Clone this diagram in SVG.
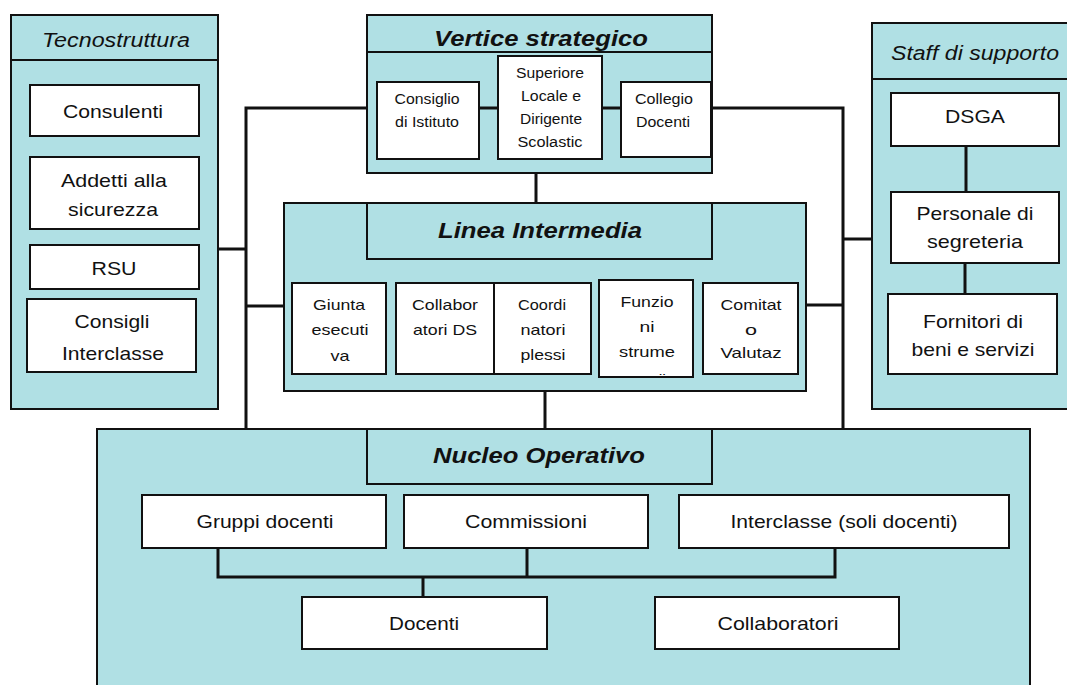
<svg xmlns="http://www.w3.org/2000/svg" width="1067" height="685" viewBox="0 0 1067 685">
<style>
.panel{fill:#B0E0E4;stroke:#111;stroke-width:2}
.box{fill:#fff;stroke:#111;stroke-width:2}
.conn{fill:none;stroke:#111;stroke-width:3}
text{font-family:"Liberation Sans",Arial,sans-serif;fill:#111;text-anchor:middle}
.t{font-size:19px}
.s{font-size:14px}
.m{font-size:15px}
.h{font-size:22px;font-weight:bold;font-style:italic}
.hi{font-size:20px;font-style:italic}
</style>
<defs>
<clipPath id="clipFunz"><rect x="600" y="281" width="92" height="94"/></clipPath>
</defs>
<rect x="0" y="0" width="1067" height="685" fill="#fff"/>

<g id="tecnostruttura">
<rect class="panel" x="11" y="15" width="207" height="394"/>
<line x1="11" y1="60" x2="218" y2="60" stroke="#111" stroke-width="2"/>
<text class="hi" x="116" y="47" textLength="148" lengthAdjust="spacingAndGlyphs">Tecnostruttura</text>
</g>
<g id="consulenti">
<rect class="box" x="30" y="85" width="169" height="51"/>
<text class="t" x="113" y="118" textLength="100" lengthAdjust="spacingAndGlyphs">Consulenti</text>
</g>
<g id="addetti">
<rect class="box" x="30" y="157" width="169" height="72"/>
<text class="t" x="114" y="187" textLength="106" lengthAdjust="spacingAndGlyphs">Addetti alla</text>
<text class="t" x="113" y="216" textLength="90" lengthAdjust="spacingAndGlyphs">sicurezza</text>
</g>
<g id="rsu">
<rect class="box" x="30" y="245" width="169" height="44"/>
<text class="t" x="114" y="275" textLength="45" lengthAdjust="spacingAndGlyphs">RSU</text>
</g>
<g id="consigli-interclasse">
<rect class="box" x="27" y="299" width="169" height="73"/>
<text class="t" x="112" y="328" textLength="75" lengthAdjust="spacingAndGlyphs">Consigli</text>
<text class="t" x="113" y="360" textLength="102" lengthAdjust="spacingAndGlyphs">Interclasse</text>
</g>

<g id="vertice-strategico">
<rect class="panel" x="367" y="15" width="345" height="158"/>
<line x1="367" y1="52" x2="712" y2="52" stroke="#111" stroke-width="2"/>
<text class="h" x="541" y="46" textLength="214" lengthAdjust="spacingAndGlyphs">Vertice strategico</text>
</g>
<g id="consiglio-istituto">
<rect class="box" x="377" y="82" width="102" height="77"/>
<text class="s" x="427" y="104" textLength="65" lengthAdjust="spacingAndGlyphs">Consiglio</text>
<text class="s" x="427" y="127" textLength="64" lengthAdjust="spacingAndGlyphs">di Istituto</text>
</g>
<g id="superiore">
<rect class="box" x="498" y="56" width="104" height="103"/>
<text class="s" x="550" y="78" textLength="68" lengthAdjust="spacingAndGlyphs">Superiore</text>
<text class="s" x="551" y="101" textLength="60" lengthAdjust="spacingAndGlyphs">Locale e</text>
<text class="s" x="551" y="124" textLength="62" lengthAdjust="spacingAndGlyphs">Dirigente</text>
<text class="s" x="550" y="147" textLength="65" lengthAdjust="spacingAndGlyphs">Scolastic</text>
</g>
<g id="collegio-docenti">
<rect class="box" x="621" y="82" width="90" height="75"/>
<text class="s" x="664" y="104" textLength="58" lengthAdjust="spacingAndGlyphs">Collegio</text>
<text class="s" x="663" y="127" textLength="54" lengthAdjust="spacingAndGlyphs">Docenti</text>
</g>

<g id="staff-supporto">
<rect class="panel" x="872" y="23" width="210" height="386"/>
<line x1="872" y1="79" x2="1082" y2="79" stroke="#111" stroke-width="2"/>
<text class="hi" x="975" y="60" textLength="168" lengthAdjust="spacingAndGlyphs">Staff di supporto</text>
</g>
<g id="dsga">
<rect class="box" x="891" y="93" width="168" height="53"/>
<text class="t" x="975" y="123" textLength="60" lengthAdjust="spacingAndGlyphs">DSGA</text>
</g>
<g id="personale-segreteria">
<rect class="box" x="891" y="192" width="168" height="71"/>
<text class="t" x="975" y="220" textLength="117" lengthAdjust="spacingAndGlyphs">Personale di</text>
<text class="t" x="975" y="248" textLength="96" lengthAdjust="spacingAndGlyphs">segreteria</text>
</g>
<g id="fornitori">
<rect class="box" x="888" y="294" width="169" height="80"/>
<text class="t" x="973" y="328" textLength="100" lengthAdjust="spacingAndGlyphs">Fornitori di</text>
<text class="t" x="973" y="356" textLength="123" lengthAdjust="spacingAndGlyphs">beni e servizi</text>
</g>

<g id="linea-intermedia">
<rect class="panel" x="284" y="203" width="522" height="188"/>
<rect class="panel" x="367" y="203" width="345" height="56"/>
<text class="h" x="540" y="238" textLength="204" lengthAdjust="spacingAndGlyphs">Linea Intermedia</text>
</g>
<g id="giunta-esecutiva">
<rect class="box" x="292" y="283" width="94" height="91"/>
<text class="m" x="339" y="310" textLength="52" lengthAdjust="spacingAndGlyphs">Giunta</text>
<text class="m" x="340" y="335" textLength="57" lengthAdjust="spacingAndGlyphs">esecuti</text>
<text class="m" x="340" y="361" textLength="19" lengthAdjust="spacingAndGlyphs">va</text>
</g>
<g id="collaboratori-ds">
<rect class="box" x="396" y="283" width="98" height="91"/>
<text class="m" x="445" y="310" textLength="66" lengthAdjust="spacingAndGlyphs">Collabor</text>
<text class="m" x="445" y="335" textLength="64" lengthAdjust="spacingAndGlyphs">atori DS</text>
</g>
<g id="coordinatori-plessi">
<rect class="box" x="494" y="283" width="97" height="91"/>
<text class="m" x="542" y="310" textLength="48" lengthAdjust="spacingAndGlyphs">Coordi</text>
<text class="m" x="543" y="335" textLength="45" lengthAdjust="spacingAndGlyphs">natori</text>
<text class="m" x="543" y="360" textLength="45" lengthAdjust="spacingAndGlyphs">plessi</text>
</g>
<g id="funzioni-strumentali">
<rect class="box" x="599" y="280" width="94" height="97"/>
<text class="m" x="647" y="307" textLength="53" lengthAdjust="spacingAndGlyphs">Funzio</text>
<text class="m" x="647" y="332" textLength="15" lengthAdjust="spacingAndGlyphs">ni</text>
<text class="m" x="647" y="357" textLength="56" lengthAdjust="spacingAndGlyphs">strume</text>
<text class="m" x="651" y="385" clip-path="url(#clipFunz)" textLength="30" lengthAdjust="spacingAndGlyphs">ntali</text>
</g>
<g id="comitato-valutaz">
<rect class="box" x="703" y="283" width="95" height="91"/>
<text class="m" x="751" y="310" textLength="61" lengthAdjust="spacingAndGlyphs">Comitat</text>
<text class="m" x="751" y="335" textLength="12" lengthAdjust="spacingAndGlyphs">o</text>
<text class="m" x="751" y="358" textLength="61" lengthAdjust="spacingAndGlyphs">Valutaz</text>
</g>

<g id="nucleo-operativo">
<rect class="panel" x="97" y="429" width="933" height="280"/>
<rect class="panel" x="367" y="429" width="345" height="55"/>
<text class="h" x="539" y="463" textLength="212" lengthAdjust="spacingAndGlyphs">Nucleo Operativo</text>
</g>
<g id="gruppi-docenti">
<rect class="box" x="142" y="495" width="244" height="53"/>
<text class="t" x="265" y="528" textLength="137" lengthAdjust="spacingAndGlyphs">Gruppi docenti</text>
</g>
<g id="commissioni">
<rect class="box" x="404" y="495" width="244" height="53"/>
<text class="t" x="526" y="528" textLength="122" lengthAdjust="spacingAndGlyphs">Commissioni</text>
</g>
<g id="interclasse-soli-docenti">
<rect class="box" x="679" y="495" width="330" height="53"/>
<text class="t" x="844" y="528" textLength="227" lengthAdjust="spacingAndGlyphs">Interclasse (soli docenti)</text>
</g>
<g id="docenti">
<rect class="box" x="302" y="597" width="245" height="52"/>
<text class="t" x="424" y="630" textLength="70" lengthAdjust="spacingAndGlyphs">Docenti</text>
</g>
<g id="collaboratori">
<rect class="box" x="655" y="597" width="244" height="52"/>
<text class="t" x="778" y="630" textLength="121" lengthAdjust="spacingAndGlyphs">Collaboratori</text>
</g>

<g id="connectors">
<path class="conn" d="M367,108 H246 V428 M219,249 H246 M246,306 H283"/>
<path class="conn" d="M713,108 H843 V428 M843,239 H871 M807,305 H843"/>
<path class="conn" d="M480,108 H497 M603,108 H620"/>
<path class="conn" d="M536,174 V202"/>
<path class="conn" d="M545,392 V428"/>
<path class="conn" d="M966,147 V191 M965,264 V293"/>
<path class="conn" d="M218,549 V577 H835 V549 M527,549 V577 M423,577 V596"/>
</g>
</svg>
